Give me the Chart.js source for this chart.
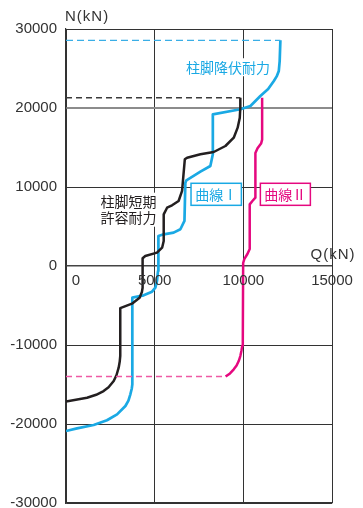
<!DOCTYPE html>
<html><head><meta charset="utf-8">
<script src="https://cdn.jsdelivr.net/npm/chart.js@4/dist/chart.umd.min.js"></script>
<style>html,body{margin:0;padding:0;background:#fff;}canvas{display:block;}</style>
</head><body>
<canvas id="c" width="363" height="508"></canvas>
<script>
// ---- data (Q in kN, N in kN) ----
const xTicks = [0, 5000, 10000, 15000];
const yTicks = [-30000, -20000, -10000, 0, 10000, 20000, 30000];

// 柱脚短期許容耐力 (black)
const blackQ = [0, 1185, 1700, 2120, 2400, 2690, 2850, 2970, 3030, 3060, 3060, 3720, 4150, 4280, 4320, 4320, 4470, 5130, 5420, 5510, 5510, 5700, 5980, 6350, 6545, 6700, 6830, 7580, 8330, 8990, 9460, 9680, 9800, 9830, 9830];
const blackN = [-17150, -16670, -16300, -15830, -15350, -14560, -13800, -12870, -12100, -11390, -5330, -4770, -4010, -3300, -2750, 975, 1270, 1690, 2320, 3160, 6540, 7380, 7680, 8230, 9500, 13500, 13710, 14140, 14430, 15190, 16240, 17510, 18770, 20040, 21300];
const blackDashQ = [0, 9830];
const blackDashN = [21300, 21300];

// 曲線Ⅰ / 柱脚降伏耐力 (blue)
const blueQ = [0, 620, 1560, 2310, 2880, 3350, 3520, 3630, 3710, 3740, 3740, 4380, 4850, 5040, 5130, 5190, 5210, 5510, 6070, 6450, 6680, 6730, 6790, 7580, 8140, 8280, 8280, 9840, 10400, 10960, 11400, 11720, 11880, 12000, 12050, 12090];
const blueN = [-20890, -20550, -20130, -19530, -18780, -17720, -17050, -16240, -15500, -14980, -4010, -3710, -3250, -2750, -1900, -630, 3800, 4010, 4220, 4650, 5700, 10500, 10850, 11940, 12660, 14140, 19200, 19840, 20260, 21520, 22400, 23420, 24000, 24690, 25950, 28570];
const blueDashQ = [0, 12090];
const blueDashN = [28570, 28570];

// 曲線Ⅱ (pink)
const pinkQ = [9000, 9250, 9460, 9620, 9740, 9830, 9890, 9940, 9970, 9990, 10060, 10230, 10360, 10360, 10500, 10680, 10680, 10800, 11000, 11060, 11060];
const pinkN = [-14000, -13600, -13080, -12600, -12030, -11400, -10760, -10100, -9500, 380, 890, 1520, 2150, 7800, 8200, 8650, 14300, 14900, 15500, 16000, 21300];
const pinkDashQ = [0, 9000];
const pinkDashN = [-14000, -14000];

const BLUE = '#1aa9e4', PINK = '#e5087f', BLACK = '#231f20', TXT = '#333333';
const NUMFONT = "'Liberation Sans', Arial, sans-serif";
const JPFONT = "'Noto Sans CJK JP', 'Noto Sans CJK SC', sans-serif";

function pts(q, n) { return q.map((v, i) => ({ x: v, y: n[i] })); }
function line(q, n, color, width, dash) {
  return { data: pts(q, n), showLine: true, borderColor: color, borderWidth: width,
    borderDash: dash || [], pointRadius: 0, fill: false, tension: 0,
    borderCapStyle: 'butt', borderJoinStyle: 'round' };
}
function noPad(s) { s.paddingTop = 0; s.paddingBottom = 0; s.paddingLeft = 0; s.paddingRight = 0; }

const labelsPlugin = {
  id: 'labels',
  afterDraw(chart) {
    const ctx = chart.ctx, xs = chart.scales.x, ys = chart.scales.y, ca = chart.chartArea;
    const X = v => xs.getPixelForValue(v), Y = v => ys.getPixelForValue(v);
    ctx.save();
    // x tick labels along N = 0
    ctx.fillStyle = TXT; ctx.font = "15px " + NUMFONT;
    ctx.textAlign = 'center'; ctx.textBaseline = 'middle';
    xTicks.forEach(v => {
      const off = v === 0 ? 10 : 0;
      ctx.fillText(String(v), X(v) + off, Y(0) + 14.5);
    });
    // axis titles
    ctx.textAlign = 'left';
    ctx.font = "15px " + NUMFONT;
    ctx.letterSpacing = '1px';
    ctx.fillText('N(kN)', ca.left - 1, ca.top - 12);
    ctx.fillText('Q(kN)', X(13790), Y(1390));
    ctx.letterSpacing = '0px';

    ctx.font = "14px " + JPFONT;
    ctx.textAlign = 'center'; ctx.textBaseline = 'middle';
    // 柱脚降伏耐力
    let cx = X(9130), cy = Y(25160);
    let w = ctx.measureText('柱脚降伏耐力').width;
    ctx.fillStyle = '#fff'; ctx.fillRect(cx - w / 2 - 1, cy - 9, w + 2, 18);
    ctx.fillStyle = BLUE; ctx.fillText('柱脚降伏耐力', cx, cy);
    // 柱脚短期 / 許容耐力
    cx = X(3530);
    w = ctx.measureText('柱脚短期').width;
    ctx.fillStyle = '#fff'; ctx.fillRect(cx - w / 2 - 1, Y(8140) - 9, w + 2, 34);
    ctx.fillStyle = BLACK;
    ctx.fillText('柱脚短期', cx, Y(8140));
    ctx.fillText('許容耐力', cx, Y(6120));
    // boxes
    function box(q0, q1, text, color) {
      const x0 = X(q0), x1 = X(q1), y0 = Y(10470), y1 = Y(7680);
      ctx.fillStyle = '#fff'; ctx.fillRect(x0, y0, x1 - x0, y1 - y0);
      ctx.strokeStyle = color; ctx.lineWidth = 1.5; ctx.strokeRect(x0, y0, x1 - x0, y1 - y0);
      ctx.fillStyle = color; ctx.fillText(text, (x0 + x1) / 2, (y0 + y1) / 2 + 0.5);
    }
    box(7050, 9890, '曲線Ⅰ', BLUE);
    box(10960, 13780, '曲線Ⅱ', PINK);
    ctx.restore();
  }
};

new Chart(document.getElementById('c'), {
  type: 'scatter',
  data: { datasets: [
    line(blackDashQ, blackDashN, '#3a3a3a', 1.3, [6, 4]),
    line(blueDashQ, blueDashN, '#3aaee6', 1.3, [7, 4]),
    line(pinkDashQ, pinkDashN, '#ee5aa5', 1.5, [6, 4]),
    line(blackQ, blackN, BLACK, 2.5),
    line(blueQ, blueN, BLUE, 2.7),
    line(pinkQ, pinkN, PINK, 2.5)
  ]},
  options: {
    responsive: false, animation: false, devicePixelRatio: 1,
    layout: { padding: { top: 29, right: 31, bottom: 5, left: 0 } },
    plugins: { legend: { display: false }, tooltip: { enabled: false } },
    scales: {
      x: {
        type: 'linear', min: 0, max: 15000,
        afterBuildTicks: s => { s.ticks = xTicks.map(v => ({ value: v })); },
        ticks: { display: false },
        grid: { color: '#333', lineWidth: 1, drawTicks: false },
        border: { display: true, color: '#333', width: 1.2 },
        afterFit: s => { s.height = 0; noPad(s); }
      },
      y: {
        type: 'linear', min: -30000, max: 30000,
        afterBuildTicks: s => { s.ticks = yTicks.map(v => ({ value: v })); },
        ticks: { color: TXT, font: { size: 15, family: NUMFONT }, padding: 9,
          callback: v => String(v) },
        grid: {
          color: c => c.tick && c.tick.value === 20000 ? '#8c8c8c' : (c.tick && c.tick.value === 0 ? '#444' : '#333'),
          lineWidth: c => c.tick && c.tick.value === 20000 ? 2 : (c.tick && c.tick.value === 0 ? 1.5 : 1),
          drawTicks: false
        },
        border: { display: true, color: '#333', width: 1.2 },
        afterFit: s => { s.width = 66; noPad(s); }
      }
    }
  },
  plugins: [labelsPlugin]
});
</script>
</body></html>
